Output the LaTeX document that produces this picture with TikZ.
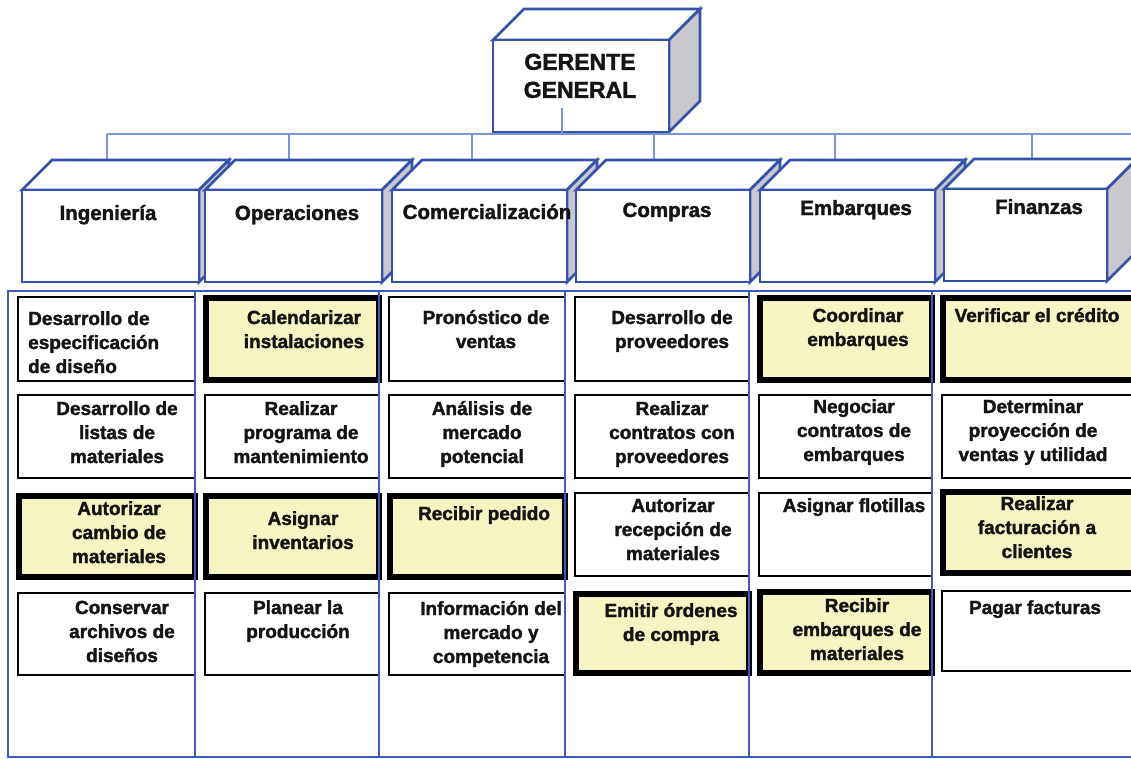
\documentclass[tikz,border=0pt]{standalone}
\usepackage{fontspec}
\setmainfont{Liberation Sans}[BoldFont={Liberation Sans Bold}, BoldFeatures={FakeBold=1.8}]

\definecolor{cubeblue}{RGB}{52,82,170}
\definecolor{linkblue}{RGB}{122,150,214}
\definecolor{tableblue}{RGB}{62,92,186}
\definecolor{sidegray}{RGB}{200,200,206}
\definecolor{hlyellow}{RGB}{246,244,192}
\definecolor{inkblack}{RGB}{20,20,20}

% 3D box: front top-left corner (#1,#2), front width #3, height #4, depth #5
\newcommand\orgcube[5]{%
  \filldraw[cubeedge, fill=white] (#1,#2) -- ++(#5,-#5) -- ++(#3,0) -- ++(-#5,#5) -- cycle;
  \filldraw[cubeedge, fill=sidegray] (#1+#3,#2) -- ++(#5,-#5) -- ++(0,#4) -- ++(-#5,#5) -- cycle;
  \filldraw[cubeedge, fill=white] (#1,#2) rectangle ++(#3,#4);
}

\begin{document}
\begin{tikzpicture}[x=1pt,y=-1pt,
  cubeedge/.style={draw=cubeblue, line width=2.8pt, line join=miter},
  link/.style={draw=linkblue, line width=1.6pt},
  grid/.style={draw=tableblue, line width=1.9pt},
  task/.style={draw=black, line width=2.7pt, fill=white},
  keytask/.style={draw=black, line width=5.6pt, fill=hlyellow},
  tasktext/.style={font=\fontsize{19}{24}\selectfont\bfseries, text=inkblack,
    align=center, inner sep=0pt, anchor=north},
  depttext/.style={font=\fontsize{20.5}{24}\selectfont\bfseries, text=inkblack,
    inner sep=0pt, anchor=base},
  headtext/.style={font=\fontsize{23}{28}\selectfont\bfseries, text=inkblack,
    align=center, inner sep=0pt, anchor=north}]

\useasboundingbox (0,0) rectangle (1131,759);
\clip (0,0) rectangle (1131,759);
\fill[white] (0,0) rectangle (1131,759);

% ---- general manager ----
\orgcube{493}{40}{176}{92}{31}
\node[headtext] (gg) at (580,50) {\strut GERENTE\\GENERAL};

% ---- bus linking the departments ----
\coordinate (bus-l) at (107,134);
\coordinate (bus-r) at (1140,134);
\coordinate (gg-stem) at (562,108);
\coordinate (gg-bus) at (562,134);
\draw[link] (bus-l) -- (bus-r);
\draw[link] (gg-stem) -- (gg-bus);

\foreach \nm/\xx in {ing/107, ope/289, com/472, cmp/654, emb/835, fin/1032}{
  \coordinate (\nm-bus) at (\xx,134);
  \coordinate (\nm-top) at (\xx,161);
  \draw[link] (\nm-bus) -- (\nm-top);
}

% ---- departments ----
\orgcube{22}{190}{177}{92}{30}
\orgcube{205}{190}{177}{92}{30}
\orgcube{392}{190}{175}{92}{30}
\orgcube{576}{190}{174}{92}{30}
\orgcube{760}{190}{175}{92}{30}
\orgcube{944}{189}{163}{92}{30}

\node[depttext] (ing) at (108,220) {Ingeniería};
\node[depttext] (ope) at (297,220) {Operaciones};
\node[depttext] (com) at (487,219) {Comercialización};
\node[depttext] (cmp) at (667,217) {Compras};
\node[depttext] (emb) at (856,215) {Embarques};
\node[depttext] (fin) at (1039,214) {Finanzas};

% ---- activity boxes ----
% column 1
\draw[task]    (18,297) rectangle (195,381);
\draw[task]    (18,395) rectangle (195,478);
\draw[keytask] (19,496) rectangle (195,577);
\draw[task]    (18,593) rectangle (195,675);
% column 2
\draw[keytask] (206,298) rectangle (379,380);
\draw[task]    (205,395) rectangle (379,478);
\draw[keytask] (206,496) rectangle (379,577);
\draw[task]    (205,593) rectangle (379,675);
% column 3
\draw[task]    (389,297) rectangle (565,381);
\draw[task]    (389,395) rectangle (565,478);
\draw[keytask] (390,496) rectangle (565,577);
\draw[task]    (389,593) rectangle (565,675);
% column 4
\draw[task]    (575,297) rectangle (749,381);
\draw[task]    (575,395) rectangle (749,478);
\draw[task]    (575,493) rectangle (749,576);
\draw[keytask] (576,594) rectangle (749,673);
% column 5
\draw[keytask] (760,298) rectangle (932,380);
\draw[task]    (759,395) rectangle (932,478);
\draw[task]    (759,493) rectangle (932,576);
\draw[keytask] (760,592) rectangle (932,673);
% column 6
\draw[keytask] (943,298) rectangle (1145,380);
\draw[task]    (942,395) rectangle (1145,478);
\draw[keytask] (943,492) rectangle (1145,573);
\draw[task]    (942,591) rectangle (1145,671);

% ---- table frame and column rules ----
\draw[grid] (8,291) rectangle (1145,757);
\foreach \xx in {195,379,565,749,932}{
  \draw[grid] (\xx,291) -- (\xx,757);
}

% ---- activity texts ----
\node[tasktext, anchor=north west, align=left] (t11) at (28,308)
  {\strut Desarrollo de\\especificación\\de diseño};
\node[tasktext] (t12) at (117,398) {\strut Desarrollo de\\listas de\\materiales};
\node[tasktext] (t13) at (119,498) {\strut Autorizar\\cambio de\\materiales};
\node[tasktext] (t14) at (122,597) {\strut Conservar\\archivos de\\diseños};

\node[tasktext] (t21) at (304,307) {\strut Calendarizar\\instalaciones};
\node[tasktext] (t22) at (301,398) {\strut Realizar\\programa de\\mantenimiento};
\node[tasktext] (t23) at (303,508) {\strut Asignar\\inventarios};
\node[tasktext] (t24) at (298,597) {\strut Planear la\\producción};

\node[tasktext] (t31) at (486,307) {\strut Pronóstico de\\ventas};
\node[tasktext] (t32) at (482,398) {\strut Análisis de\\mercado\\potencial};
\node[tasktext] (t33) at (484,503) {\strut Recibir pedido};
\node[tasktext] (t34) at (491,598) {\strut Información del\\mercado y\\competencia};

\node[tasktext] (t41) at (672,307) {\strut Desarrollo de\\proveedores};
\node[tasktext] (t42) at (672,398) {\strut Realizar\\contratos con\\proveedores};
\node[tasktext] (t43) at (673,495) {\strut Autorizar\\recepción de\\materiales};
\node[tasktext] (t44) at (671,600) {\strut Emitir órdenes\\de compra};

\node[tasktext] (t51) at (858,305) {\strut Coordinar\\embarques};
\node[tasktext] (t52) at (854,396) {\strut Negociar\\contratos de\\embarques};
\node[tasktext] (t53) at (854,495) {\strut Asignar flotillas};
\node[tasktext] (t54) at (857,595) {\strut Recibir\\embarques de\\materiales};

\node[tasktext] (t61) at (1037,305) {\strut Verificar el crédito};
\node[tasktext] (t62) at (1033,396) {\strut Determinar\\proyección de\\ventas y utilidad};
\node[tasktext] (t63) at (1037,493) {\strut Realizar\\facturación a\\clientes};
\node[tasktext] (t64) at (1035,597) {\strut Pagar facturas};

\end{tikzpicture}
\end{document}
